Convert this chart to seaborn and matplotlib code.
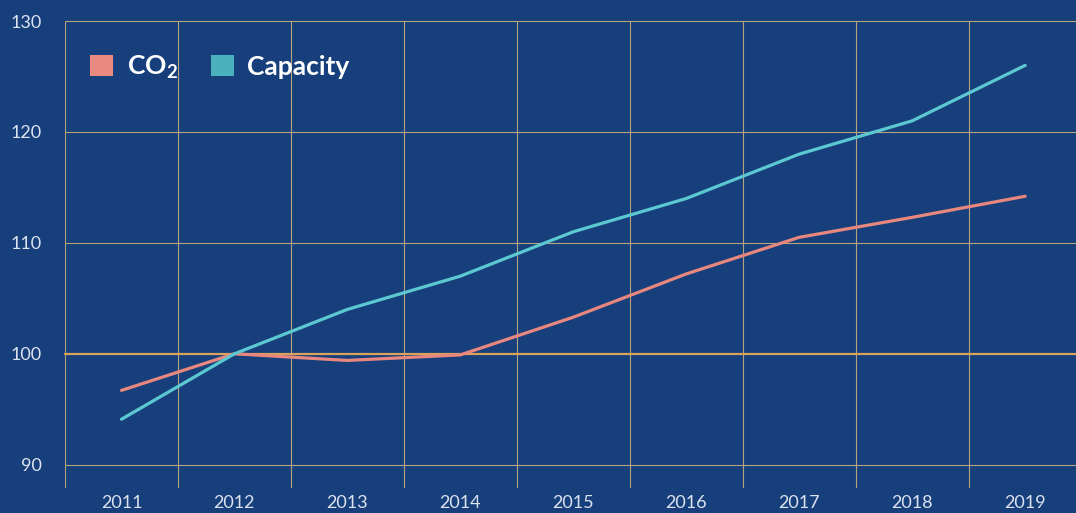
import matplotlib
matplotlib.use("Agg")
import matplotlib.pyplot as plt
from matplotlib.patches import Patch
import seaborn as sns
import pandas as pd

years = [2011, 2012, 2013, 2014, 2015, 2016, 2017, 2018, 2019]
co2 = [96.7, 100.0, 99.4, 99.9, 103.3, 107.2, 110.5, 112.3, 114.2]
capacity = [94.1, 100.0, 104.0, 107.0, 111.0, 114.0, 118.0, 121.0, 126.0]
y_ticks = [90, 100, 110, 120, 130]

bg = "#163f7c"
grid_col = "#b8a27f"
base_col = "#d9a35a"
text_col = "#dde3ee"
co2_col = "#e8877e"
cap_col = "#5cc8d1"

df = pd.DataFrame({
    "year": years * 2,
    "value": co2 + capacity,
    "series": ["CO2"] * len(years) + ["Capacity"] * len(years),
})

sns.set_theme(style="white")
plt.rcParams["font.family"] = ["Lato", "DejaVu Sans"]

fig = plt.figure(figsize=(10.76, 5.13), dpi=100, facecolor=bg)
ax = fig.add_axes([65 / 1076, 1 - 488 / 513, 1 - 65 / 1076, (488 - 21) / 513])
ax.set_facecolor(bg)

sns.lineplot(data=df, x="year", y="value", hue="series",
             palette={"CO2": co2_col, "Capacity": cap_col},
             linewidth=2.3, ax=ax, legend=False, zorder=3)

ax.set_xlim(2010.5, 2019.45)
ax.set_ylim(87.9, 130)
ax.set_xticks(years)
ax.set_xticklabels([str(y) for y in years])
ax.set_xticks([y - 0.5 for y in years], minor=True)
ax.set_yticks(y_ticks)
ax.set_yticklabels([str(v) for v in y_ticks])

for s in ax.spines.values():
    s.set_visible(False)

ax.grid(False)
ax.grid(True, axis="x", which="minor", color=grid_col, linewidth=0.8)
ax.grid(True, axis="y", which="major", color=grid_col, linewidth=0.8)
for v, gl in zip(y_ticks, ax.get_ygridlines()):
    if v == 100:
        gl.set_color(base_col)
        gl.set_linewidth(1.6)
    gl.set_clip_on(False)

ax.tick_params(axis="x", which="both", length=0, pad=5,
               labelsize=13, labelcolor=text_col)
ax.tick_params(axis="y", which="major", length=7.5, width=0.8,
               color=grid_col, pad=9, labelsize=13, labelcolor=text_col)
for v, tl in zip(y_ticks, ax.yaxis.get_major_ticks()):
    if v == 100:
        tl.tick1line.set_color(base_col)
        tl.tick1line.set_markeredgewidth(1.6)
for lbl in ax.get_xticklabels() + ax.get_yticklabels():
    lbl.set_fontweight("normal")

ax.set_xlabel("")
ax.set_ylabel("")

handles = [Patch(facecolor="#e88a80", edgecolor="none"),
           Patch(facecolor="#4bb1bd", edgecolor="none")]
leg = ax.legend(handles, [r"CO$_\mathregular{2}$", "Capacity"],
                loc="upper left", bbox_to_anchor=(0.025, 0.93),
                borderpad=0, borderaxespad=0,
                ncol=2, frameon=False, handlelength=0.88, handleheight=0.88,
                handletextpad=0.5, columnspacing=1.25,
                prop={"size": 19, "weight": "bold"})
for t in leg.get_texts():
    t.set_color("white")

fig.savefig("out.png", dpi=100, facecolor=bg)
